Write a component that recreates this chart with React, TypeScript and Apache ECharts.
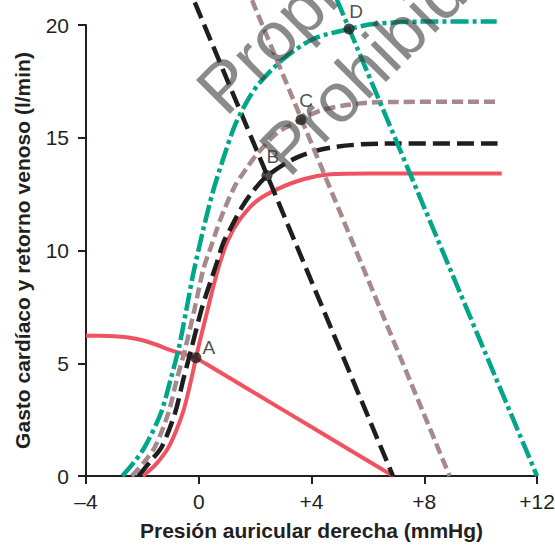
import React, { useEffect, useRef } from "react";
import * as echarts from "echarts";

// ---- axis ticks ----
const xTickValues = [-4, 0, 4, 8, 12];
const xTickLabels = ["–4", "0", "+4", "+8", "+12"];
const yMin = 0;
const yMax = 20;
const yInterval = 5;

// ---- cardiac output curves (x: right atrial pressure, y: l/min) ----
const coRed: number[][] = [
  [-1.98, 0], [-1.5, 0.55], [-1.04, 1.35], [-0.57, 2.79], [-0.3, 4.1], [-0.1, 5.24],
  [0.1, 6.3], [0.3, 7.3], [0.52, 8.41], [0.75, 9.45], [1.05, 10.49], [1.46, 11.38],
  [2.05, 12.19], [2.77, 12.71], [3.71, 13.16], [4.66, 13.38], [6, 13.42], [10.75, 13.42],
];
const coBlack: number[][] = [
  [-2.14, 0], [-1.75, 0.6], [-1.31, 1.3], [-0.84, 2.8], [-0.55, 4.27], [-0.25, 5.7],
  [0.1, 7.4], [0.4, 8.56], [0.64, 9.45], [0.87, 10.34], [1.17, 11.08], [1.52, 11.9],
  [1.88, 12.56], [2.42, 13.3], [3.47, 14.12], [4.66, 14.56], [6.5, 14.74], [10.6, 14.74],
];
const coBrown: number[][] = [
  [-2.38, 0], [-1.95, 0.6], [-1.55, 1.3], [-1.08, 2.79], [-0.78, 4.27], [-0.49, 5.6],
  [-0.15, 7.4], [0.16, 9.16], [0.4, 10.04], [0.64, 10.93], [0.9, 11.8], [1.3, 12.9],
  [1.7, 13.65], [2.05, 14.25], [2.77, 15.2], [3.63, 15.8], [4.3, 16.2], [5.25, 16.45],
  [6.43, 16.58], [10.6, 16.6],
];
const coGreen: number[][] = [
  [-2.71, 0], [-2.3, 0.6], [-1.91, 1.3], [-1.35, 2.77], [-1.0, 4.27], [-0.7, 5.72],
  [-0.45, 7.3], [-0.19, 9.0], [0.16, 10.93], [0.5, 12.6], [0.85, 14.0], [1.3, 15.6],
  [1.8, 16.8], [2.17, 17.45], [3.0, 18.49], [4.06, 19.38], [5.33, 19.82], [6.19, 20.04],
  [7.85, 20.15], [10.57, 20.15],
];

// ---- venous return curves ----
const vrRed: number[][] = [
  [-4, 6.22], [-3.5, 6.22], [-3, 6.2], [-2.5, 6.14], [-2, 6.02], [-1.5, 5.82],
  [-1.0, 5.58], [-0.5, 5.4], [-0.1, 5.22], [0.4, 4.87], [2, 3.67], [4, 2.17], [6.9, 0],
];
const vrBlack: number[][] = [[-0.14, 21.0], [6.89, 0]];
const vrBrown: number[][] = [[1.89, 21.1], [8.9, 0]];
const vrGreen: number[][] = [[4.89, 21.16], [12.0, 0]];

// ---- equilibrium points ----
const pointNames = ["A", "B", "C", "D"];
const pointX = [-0.1, 2.42, 3.63, 5.33];
const pointY = [5.24, 13.33, 15.8, 19.82];

// ---- watermark ----
const watermarkLines = ["Propiedad", "Prohibida"];

const FONT = "'Liberation Sans', Arial, Helvetica, sans-serif";
const AXIS_COLOR = "#231f20";
const RED = "#ef5362";
const BLACK = "#1e1e1e";
const BROWN = "#a6898c";
const GREEN = "#00a689";

const labelOffsets = [
  [13, -10],
  [6, -19],
  [5, -19],
  [7, -18],
];

function lineSeries(data: number[][], color: string, width: number, type: any, smooth: number | boolean, z: number) {
  return {
    type: "line",
    data,
    showSymbol: false,
    symbol: "none",
    smooth,
    clip: false,
    z,
    lineStyle: { color, width, type, cap: "butt" },
    silent: true,
  };
}

export default function App() {
  const ref = useRef<HTMLDivElement>(null);

  useEffect(() => {
    const chart = echarts.init(ref.current!, null, { renderer: "svg" });
    const option: any = {
      animation: false,
      backgroundColor: "#ffffff",
      grid: { left: 86, right: 18, top: 25, bottom: 69, containLabel: false, outerBoundsMode: "none" },
      xAxis: {
        type: "value",
        min: xTickValues[0],
        max: xTickValues[xTickValues.length - 1],
        interval: 4,
        name: "Presión auricular derecha (mmHg)",
        nameLocation: "middle",
        nameGap: 44,
        nameTextStyle: { fontSize: 21, fontWeight: "bold", color: AXIS_COLOR, fontFamily: FONT },
        axisLine: { show: true, onZero: false, lineStyle: { color: AXIS_COLOR, width: 2 } },
        axisTick: { show: true, inside: false, length: 8, lineStyle: { color: AXIS_COLOR, width: 2 } },
        axisLabel: {
          show: true,
          margin: 15,
          fontSize: 21,
          color: AXIS_COLOR,
          fontFamily: FONT,
          formatter: (v: number) => {
            const i = xTickValues.indexOf(v);
            return i >= 0 ? xTickLabels[i] : "";
          },
        },
        splitLine: { show: false },
      },
      yAxis: {
        type: "value",
        min: yMin,
        max: yMax,
        interval: yInterval,
        name: "Gasto cardíaco y retorno venoso (l/min)",
        nameLocation: "middle",
        nameGap: 53,
        nameTextStyle: { fontSize: 21, fontWeight: "bold", color: AXIS_COLOR, fontFamily: FONT },
        axisLine: { show: true, onZero: false, lineStyle: { color: AXIS_COLOR, width: 2 } },
        axisTick: { show: true, inside: false, length: 8, lineStyle: { color: AXIS_COLOR, width: 2 } },
        axisLabel: { show: true, margin: 17, fontSize: 21, color: AXIS_COLOR, fontFamily: FONT },
        splitLine: { show: false },
      },
      series: [
        lineSeries(vrRed, RED, 4, "solid", 0.3, 2),
        lineSeries(coRed, RED, 4, "solid", 0.3, 2),
        lineSeries(vrBlack, BLACK, 4.5, [17, 7], false, 3),
        lineSeries(coBlack, BLACK, 4.5, [17, 7], 0.3, 3),
        lineSeries(vrBrown, BROWN, 4.5, [11, 5], false, 4),
        lineSeries(coBrown, BROWN, 4.5, [11, 5], 0.3, 4),
        lineSeries(vrGreen, GREEN, 4.5, [18, 4, 4, 4], false, 5),
        lineSeries(coGreen, GREEN, 4.5, [18, 4, 4, 4], 0.3, 5),
        {
          type: "scatter",
          z: 10,
          symbol: "circle",
          symbolSize: 11,
          itemStyle: { color: BLACK },
          silent: true,
          data: pointNames.map((n, i) => ({
            value: [pointX[i], pointY[i]],
            name: n,
            label: {
              show: true,
              position: "inside",
              offset: labelOffsets[i],
              formatter: n,
              fontSize: 19,
              color: "#222222",
              fontFamily: FONT,
            },
          })),
        },
      ],
      graphic: [
        {
          type: "text",
          x: 209,
          y: 101,
          rotation: Math.PI / 4,
          z: 100,
          silent: true,
          style: {
            text: watermarkLines[0],
            font: "70px 'Liberation Sans', Arial, sans-serif",
            fill: "rgba(60,60,60,0.6)",
            textAlign: "left",
            textVerticalAlign: "middle",
            align: "left",
            verticalAlign: "middle",
          },
        },
        {
          type: "text",
          x: 272,
          y: 162,
          rotation: Math.PI / 4,
          z: 100,
          silent: true,
          style: {
            text: watermarkLines[1],
            font: "70px 'Liberation Sans', Arial, sans-serif",
            fill: "rgba(60,60,60,0.6)",
            textAlign: "left",
            textVerticalAlign: "middle",
            align: "left",
            verticalAlign: "middle",
          },
        },
      ],
    };
    chart.setOption(option);
    return () => chart.dispose();
  }, []);

  return (
    <div
      ref={ref}
      style={{ position: "absolute", left: 0, top: 0, width: 555, height: 545 }}
    />
  );
}
